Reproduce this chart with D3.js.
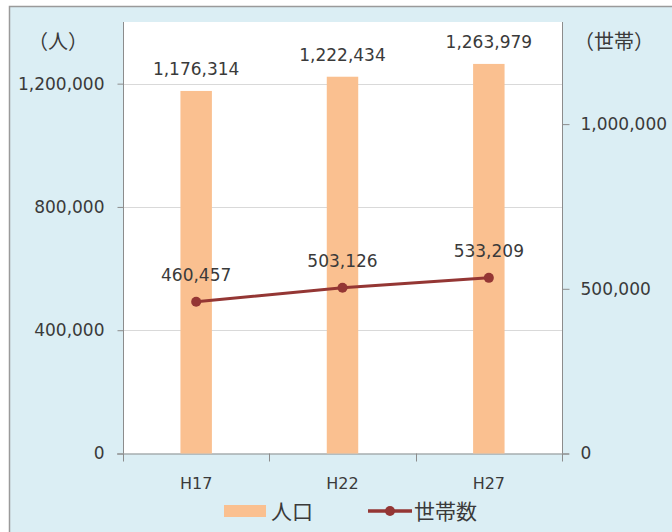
<!DOCTYPE html>
<html>
<head>
<meta charset="utf-8">
<script src="https://cdn.jsdelivr.net/npm/d3@7"></script>
<style>
  html, body { margin: 0; padding: 0; background: #ffffff; }
  svg text { font-family: "DejaVu Sans", "Noto Sans CJK JP", sans-serif; fill: #3a3a3a; }
  svg text.jp { font-family: "Noto Sans CJK JP", sans-serif; }
</style>
</head>
<body>
<svg id="chart" width="672" height="532"></svg>
<script>
// 年次
const categories = ["H17", "H22", "H27"];
// 人口（人）
const population = [1176314, 1222434, 1263979];
// 世帯数（世帯）
const households = [460457, 503126, 533209];
// 軸目盛
const leftTicks = [0, 400000, 800000, 1200000];
const rightTicks = [0, 500000, 1000000];
const legendLabels = ["人口", "世帯数"];

const svg = d3.select("#chart");
const W = 672, H = 532;
const plot = { left: 123, right: 562, top: 22, bottom: 453.5 };

const barColor = "#fac090";
const lineColor = "#943634";
const fmt = d3.format(",");
const numSize = 17;

// chart background and frame
svg.append("rect").attr("x", 0).attr("y", 0).attr("width", W).attr("height", H).attr("fill", "#ffffff");
svg.append("rect").attr("x", 9.5).attr("y", 6.5).attr("width", W + 10).attr("height", H + 10)
  .attr("fill", "#dbeef4").attr("stroke", "#9a9a9a").attr("stroke-width", 1.5);
svg.append("rect").attr("x", plot.left).attr("y", plot.top)
  .attr("width", plot.right - plot.left).attr("height", plot.bottom - plot.top).attr("fill", "#ffffff");

const x = d3.scaleBand().domain(categories).range([plot.left, plot.right])
  .paddingInner(0.785).paddingOuter(0.3925);
const yL = d3.scaleLinear().domain([0, 1400000]).range([plot.bottom, plot.top]);
const yR = d3.scaleLinear().domain([0, 1310000]).range([plot.bottom, plot.top]);
const cx = c => x(c) + x.bandwidth() / 2;

// gridlines
svg.append("g").selectAll("line").data(leftTicks.filter(d => d > 0)).join("line")
  .attr("x1", plot.left).attr("x2", plot.right)
  .attr("y1", d => Math.round(yL(d)) + 0.5).attr("y2", d => Math.round(yL(d)) + 0.5)
  .attr("stroke", "#d9d9d9").attr("stroke-width", 1);

// left axis
const axL = svg.append("g").attr("transform", `translate(${plot.left + 0.5},0)`)
  .call(d3.axisLeft(yL).tickValues(leftTicks).tickFormat(fmt).tickSize(6).tickPadding(13));
// right axis
const axR = svg.append("g").attr("transform", `translate(${plot.right + 0.5},0)`)
  .call(d3.axisRight(yR).tickValues(rightTicks).tickFormat(fmt).tickSize(7).tickPadding(11));
[axL, axR].forEach(ax => {
  ax.select(".domain").attr("stroke", "#8c8c8c").attr("d", `M0,${plot.top}V${plot.bottom}`);
  ax.selectAll(".tick line").attr("stroke", "#8c8c8c");
  ax.selectAll(".tick text").attr("font-size", numSize).attr("fill", "#3a3a3a")
    .attr("font-family", "'DejaVu Sans', sans-serif");
});

// bottom axis with category boundary ticks
const step = x.step();
const bounds = d3.range(categories.length + 1).map(i => x.range()[0] + i * step);
const axB = svg.append("g");
axB.append("line").attr("x1", plot.left - 6).attr("x2", plot.right + 7)
  .attr("y1", plot.bottom + 0.5).attr("y2", plot.bottom + 0.5).attr("stroke", "#8c8c8c");
axB.selectAll("line.tk").data(bounds).join("line").attr("class", "tk")
  .attr("x1", d => Math.round(d) + 0.5).attr("x2", d => Math.round(d) + 0.5)
  .attr("y1", plot.bottom).attr("y2", plot.bottom + 8).attr("stroke", "#8c8c8c");
axB.selectAll("text").data(categories).join("text")
  .attr("x", d => cx(d)).attr("y", 489).attr("text-anchor", "middle")
  .attr("font-size", 16).text(d => d);

// bars
svg.append("g").selectAll("rect").data(categories).join("rect")
  .attr("x", d => x(d)).attr("width", x.bandwidth())
  .attr("y", (d, i) => yL(population[i])).attr("height", (d, i) => plot.bottom - yL(population[i]))
  .attr("fill", barColor);

// line
const line = d3.line().x((d, i) => cx(categories[i])).y(d => yR(d));
svg.append("path").datum(households).attr("d", line)
  .attr("fill", "none").attr("stroke", lineColor).attr("stroke-width", 3);
svg.append("g").selectAll("circle").data(households).join("circle")
  .attr("cx", (d, i) => cx(categories[i])).attr("cy", d => yR(d)).attr("r", 5)
  .attr("fill", lineColor);

// data labels
svg.append("g").selectAll("text").data(population).join("text")
  .attr("x", (d, i) => cx(categories[i])).attr("y", d => yL(d) - 16)
  .attr("text-anchor", "middle").attr("font-size", numSize).text(d => fmt(d));
svg.append("g").selectAll("text").data(households).join("text")
  .attr("x", (d, i) => cx(categories[i])).attr("y", d => yR(d) - 21)
  .attr("text-anchor", "middle").attr("font-size", numSize).text(d => fmt(d));

// axis unit titles
svg.append("text").attr("class", "jp").attr("x", 58).attr("y", 49).attr("text-anchor", "middle")
  .attr("font-size", 20).text("（人）");
svg.append("text").attr("class", "jp").attr("x", 614).attr("y", 49).attr("text-anchor", "middle")
  .attr("font-size", 20).text("（世帯）");

// legend
const lg = svg.append("g");
lg.append("rect").attr("x", 224).attr("y", 505).attr("width", 42).attr("height", 12).attr("fill", barColor);
lg.append("text").attr("class", "jp").attr("x", 271).attr("y", 519).attr("font-size", 21).text(legendLabels[0]);
lg.append("line").attr("x1", 368).attr("x2", 412).attr("y1", 511).attr("y2", 511)
  .attr("stroke", lineColor).attr("stroke-width", 3.5);
lg.append("circle").attr("cx", 390).attr("cy", 511).attr("r", 5).attr("fill", lineColor);
lg.append("text").attr("class", "jp").attr("x", 414).attr("y", 519).attr("font-size", 21).text(legendLabels[1]);
</script>
</body>
</html>
